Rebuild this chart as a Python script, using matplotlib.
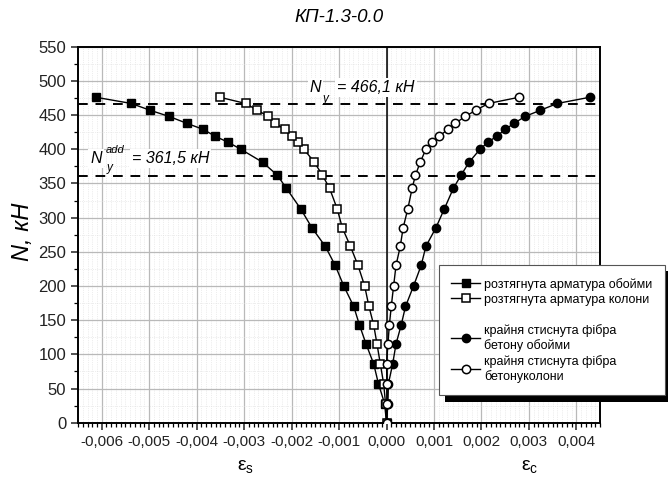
"""N - strain curves for specimen KP-1.3-0.0."""

import matplotlib
matplotlib.use("Agg")
import matplotlib.pyplot as plt
from matplotlib.patches import Rectangle
from matplotlib.ticker import MultipleLocator, FuncFormatter

plt.rcParams["font.family"] = ["Liberation Sans", "DejaVu Sans"]
plt.rcParams["mathtext.fontset"] = "custom"
plt.rcParams["mathtext.rm"] = "Liberation Sans"
plt.rcParams["mathtext.it"] = "Liberation Sans:italic"

# load levels, kN
N = [0, 28, 57, 86, 115, 143, 170, 200, 230, 258, 285, 313, 343, 362,
     381, 400, 410, 419, 429, 438, 448, 457, 467, 476]

# strains (x 1e-3)
eps_s_jacket = [0, -0.04, -0.17, -0.27, -0.43, -0.57, -0.69, -0.90, -1.08,
                -1.29, -1.57, -1.81, -2.11, -2.30, -2.61, -3.07, -3.33,
                -3.61, -3.86, -4.21, -4.58, -4.98, -5.38, -6.12]
eps_s_column = [0, -0.02, -0.06, -0.13, -0.20, -0.27, -0.37, -0.46, -0.60,
                -0.76, -0.93, -1.04, -1.20, -1.35, -1.52, -1.74, -1.86,
                -2.00, -2.14, -2.35, -2.49, -2.72, -2.97, -3.51]
eps_c_jacket = [0, 0.03, 0.04, 0.13, 0.20, 0.31, 0.40, 0.57, 0.73, 0.83,
                1.04, 1.22, 1.41, 1.57, 1.74, 1.97, 2.13, 2.32, 2.50, 2.69,
                2.92, 3.24, 3.60, 4.28]
eps_c_column = [0, 0.01, 0.01, 0.00, 0.03, 0.06, 0.10, 0.15, 0.20, 0.29,
                0.35, 0.45, 0.54, 0.61, 0.71, 0.83, 0.96, 1.11, 1.29, 1.45,
                1.66, 1.88, 2.15, 2.79]

N_Y = 466.1
N_Y_ADD = 361.5

labels = [
    "розтягнута арматура обойми",
    "розтягнута арматура колони",
    "крайня стиснута фібра\nбетону обойми",
    "крайня стиснута фібра\nбетонуколони",
]


def scaled(vals):
    return [v * 1e-3 for v in vals]


def piece(ax, text, xy, dx, dy, size, box=False):
    """Italic text piece placed at an offset (points) from a data anchor."""
    kw = {}
    if box:
        kw["bbox"] = dict(facecolor="white", edgecolor="none", pad=1.5)
    ax.annotate(text, xy=xy, xytext=(dx, dy), textcoords="offset points",
                fontsize=size, style="italic", ha="left", va="baseline",
                zorder=4 if box else 5, **kw)


fig = plt.figure(figsize=(6.68, 4.83), dpi=100)
ax = fig.add_axes([0.1168, 0.1248, 0.7815, 0.7785])

ax.set_xlim(-0.0065, 0.0045)
ax.set_ylim(0, 550)

ax.xaxis.set_major_locator(MultipleLocator(0.001))
ax.xaxis.set_minor_locator(MultipleLocator(0.0001))
ax.yaxis.set_major_locator(MultipleLocator(50))
ax.yaxis.set_minor_locator(MultipleLocator(25))
ax.xaxis.set_major_formatter(
    FuncFormatter(lambda v, p: f"{v:.3f}".replace(".", ",").replace("-0,000", "0,000")))

ax.grid(which="major", color="#b9b9b9", lw=0.9)
ax.grid(which="minor", color="#dddddd", lw=0.5, ls=":")
ax.set_axisbelow(True)

for sp in ax.spines.values():
    sp.set_linewidth(1.4)
ax.tick_params(which="major", direction="out", length=5, width=1.1,
               colors="#222222")
ax.tick_params(axis="x", which="major", labelsize=11)
ax.tick_params(axis="y", which="major", labelsize=12)
ax.tick_params(which="minor", direction="out", length=3, width=0.9)

ax.axvline(0, color="black", lw=1.1, zorder=2)
ax.axhline(N_Y, color="black", lw=1.4, ls=(0, (5, 4)), zorder=2)
ax.axhline(N_Y_ADD, color="black", lw=1.4, ls=(0, (5, 4)), zorder=2)

common = dict(color="black", lw=1.0, markersize=6, zorder=3)
h1, = ax.plot(scaled(eps_s_jacket), N, marker="s", mfc="black", mec="black",
              label=labels[0], **common)
h2, = ax.plot(scaled(eps_s_column), N, marker="s", mfc="white", mec="black",
              mew=1.1, label=labels[1], **common)
h3, = ax.plot(scaled(eps_c_jacket), N, marker="o", mfc="black", mec="black",
              label=labels[2], **common)
h4, = ax.plot(scaled(eps_c_column), N, marker="o", mfc="white", mec="black",
              mew=1.1, label=labels[3], **common)
blank, = ax.plot([], [], color="none", label=" ")

# N_y label
a1 = (-0.00162, 484)
piece(ax, "= 466,1 кН", a1, 20, 0, 11.5, box=True)
piece(ax, "N", a1, 0, 0, 11.5, box=True)
piece(ax, "y", a1, 9.5, -7, 8.5)

# N_y^add label
a2 = (-0.00624, 380)
piece(ax, "= 361,5 кН", a2, 30, 0, 11.5, box=True)
piece(ax, "N", a2, 0, 0, 11.5, box=True)
piece(ax, "add", a2, 10.8, 7, 8)
piece(ax, "y", a2, 12, -5.5, 8.5)

fig.text(0.508, 0.963, "КП-1.3-0.0", fontsize=13.5, style="italic",
         ha="center", va="center")
fig.text(0.033, 0.52, "N, кН", fontsize=17, style="italic", rotation=90,
         ha="center", va="center")
fig.text(0.367, 0.035, r"$\mathrm{\varepsilon}_\mathrm{s}$", fontsize=14,
         ha="center", va="center")
fig.text(0.793, 0.035, r"$\mathrm{\varepsilon}_\mathrm{c}$", fontsize=14,
         ha="center", va="center")

leg = fig.legend(handles=[h1, h2, blank, h3, h4],
                 labels=[labels[0], labels[1], " ", labels[2], labels[3]],
                 loc="upper left", bbox_to_anchor=(0.657, 0.451),
                 borderaxespad=0, fontsize=9, frameon=True, fancybox=False,
                 handlelength=2.3, handletextpad=0.3, labelspacing=0.25,
                 borderpad=1.0, edgecolor="#555555", framealpha=1)
leg.get_frame().set_linewidth(0.8)
leg.set_zorder(10)

fig.canvas.draw()
bb = leg.get_window_extent().transformed(fig.transFigure.inverted())
shadow = Rectangle((bb.x0 + 0.009, bb.y0 - 0.013), bb.width, bb.height,
                   transform=fig.transFigure, facecolor="black",
                   edgecolor="none", zorder=9)
fig.add_artist(shadow)

fig.savefig("out.png", dpi=100)
